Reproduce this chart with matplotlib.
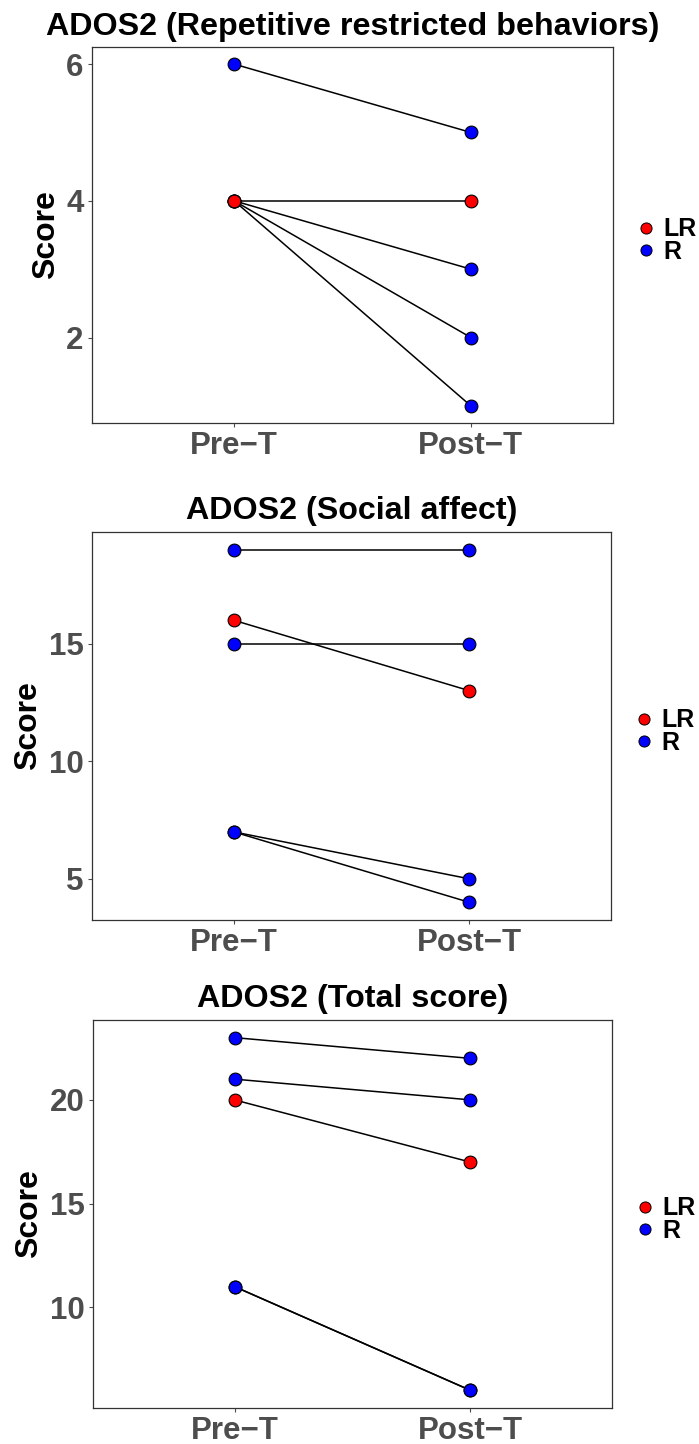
import matplotlib
matplotlib.use('Agg')
import matplotlib.pyplot as plt
from matplotlib.lines import Line2D

# ---------------- data ----------------
timepoints = ['Pre\u2212T', 'Post\u2212T']
groups = ['R', 'R', 'R', 'R', 'LR']
rrb_pre = [6, 4, 4, 4, 4]
rrb_post = [5, 3, 2, 1, 4]
sa_pre = [15, 19, 7, 7, 16]
sa_post = [15, 19, 4, 5, 13]
total_pre = [21, 23, 11, 11, 20]
total_post = [20, 22, 6, 6, 17]
titles = ['ADOS2 (Repetitive restricted behaviors)',
          'ADOS2 (Social affect)',
          'ADOS2 (Total score)']
yticks_list = [[2, 4, 6], [5, 10, 15], [10, 15, 20]]
legend_labels = ['LR', 'R']
group_colors = {'LR': '#FF0000', 'R': '#0000FF'}

panels = [(rrb_pre, rrb_post), (sa_pre, sa_post), (total_pre, total_post)]

# ---------------- style ----------------
plt.rcParams['font.family'] = ['Liberation Sans', 'DejaVu Sans']
plt.rcParams['font.weight'] = 'bold'

W, H = 699, 1444
fig = plt.figure(figsize=(W / 100, H / 100), dpi=100)
fig.patch.set_facecolor('white')

# axes rectangles in pixels: left, top, right, bottom
rects_px = [(92, 47, 613, 423), (92, 532, 611, 920), (93, 1020, 612, 1408)]

frame_col = '#333333'
tick_col = '#4D4D4D'

for (pre, post), title, yt, (l, t, r, b) in zip(panels, titles, yticks_list, rects_px):
    ax = fig.add_axes([l / W, 1 - b / H, (r - l) / W, (b - t) / H])
    ax.set_facecolor('white')
    xpos = [0, 1]
    # lines
    for p0, p1 in zip(pre, post):
        ax.plot(xpos, [p0, p1], color='black', lw=1.1, zorder=2, solid_capstyle='butt')
    # points: R first, LR on top
    for grp, z in (('R', 3), ('LR', 4)):
        for p0, p1, g in zip(pre, post, groups):
            if g != grp:
                continue
            ax.plot(xpos, [p0, p1], linestyle='none', marker='o', markersize=9.2,
                    markerfacecolor=group_colors[g], markeredgecolor='black',
                    markeredgewidth=0.8, zorder=z)
    ax.set_xlim(-0.6, 1.6)
    ax.margins(y=0.05)
    ax.set_xticks(xpos)
    ax.set_xticklabels(timepoints)
    ax.set_yticks(yt)
    ax.set_yticklabels([str(v) for v in yt])
    for lab in ax.get_xticklabels() + ax.get_yticklabels():
        lab.set_fontsize(22.5)
        lab.set_fontweight('bold')
        lab.set_color(tick_col)
    ax.tick_params(axis='both', direction='out', length=3, width=0.8, color=tick_col)
    ax.tick_params(axis='x', pad=2.5)
    ax.tick_params(axis='y', pad=3)
    for s in ax.spines.values():
        s.set_color(frame_col)
        s.set_linewidth(0.9)
    ax.set_ylabel('Score', fontsize=23, fontweight='bold', color='black', labelpad=4)
    ax.set_title(title, fontsize=23.2, fontweight='bold', color='black', pad=9)

    handles = [Line2D([], [], linestyle='none', marker='o', markersize=8,
                      markerfacecolor=group_colors[g], markeredgecolor='black',
                      markeredgewidth=0.7) for g in legend_labels]
    leg = ax.legend(handles, legend_labels, loc='center left',
                    bbox_to_anchor=(1.025, 0.485), frameon=False,
                    handlelength=0.8, handletextpad=0.3, labelspacing=-0.05,
                    borderaxespad=0, prop={'weight': 'bold', 'size': 18})

fig.savefig('out.png', dpi=100, facecolor='white')
